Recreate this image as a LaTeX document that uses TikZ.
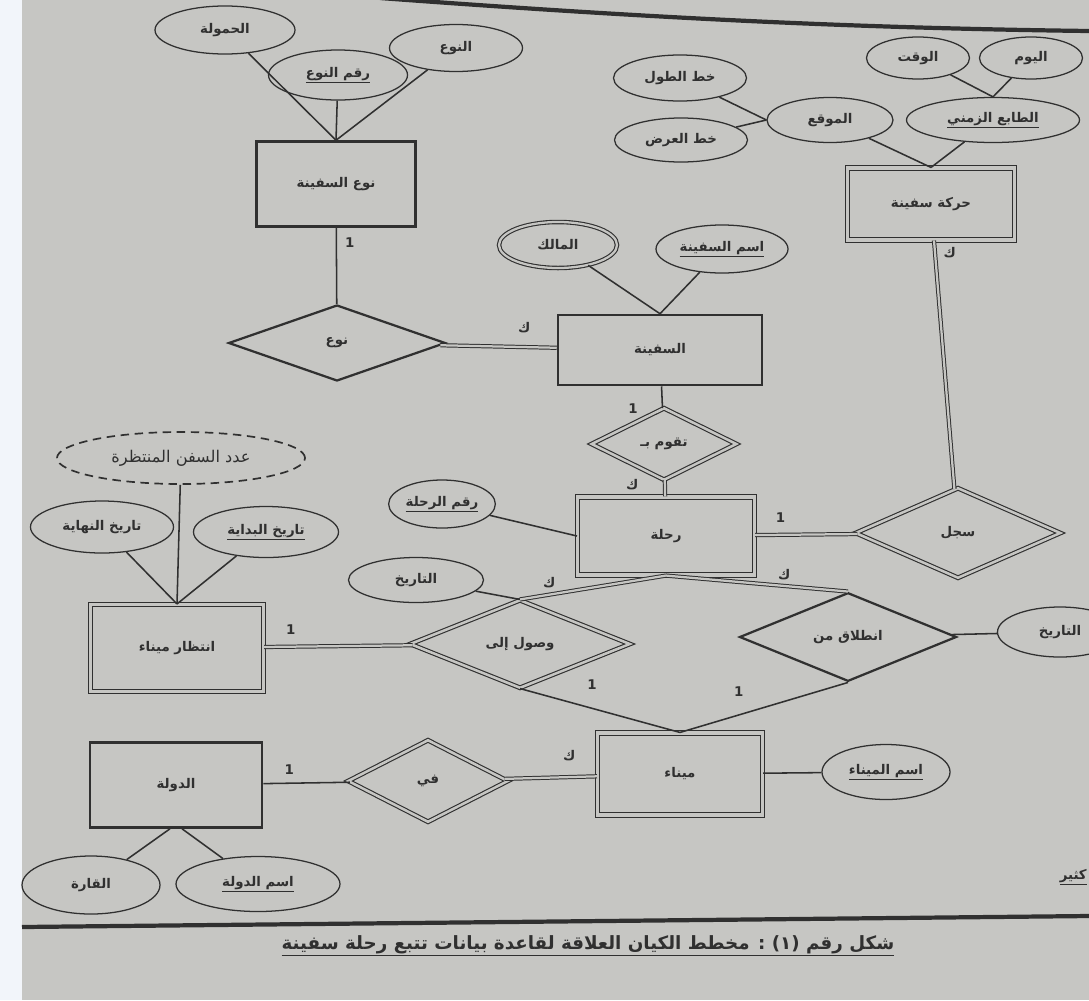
\documentclass[tikz,border=0pt]{standalone}
\usepackage{fontspec}
\usetikzlibrary{shapes.geometric}
\newfontfamily\arabicfont[Script=Arabic]{DejaVu Sans}
\TeXXeTstate=1
\newdimen\pxu \pxu=0.025cm
\newcommand{\ar}[1]{{\arabicfont\bfseries\beginR #1\endR}}
\newcommand{\aru}[1]{\underline{\ar{#1}}}
\definecolor{paper}{RGB}{198,198,195}
\definecolor{margin}{RGB}{242,245,250}
\definecolor{ink}{RGB}{48,48,48}
\tikzset{
  base/.style={draw=ink, text=ink, font=\fontsize{9.5}{11}\selectfont, inner sep=1pt},
  entity/.style={base, rectangle, line width=1.8pt},
  wentity/.style={base, rectangle, double=paper, double distance=2.4pt, line width=0.8pt},
  attr/.style={base, ellipse, line width=0.9pt},
  multiattr/.style={attr, double=paper, double distance=1.6pt, line width=0.8pt},
  derivattr/.style={attr, dash pattern=on 6pt off 4pt, line width=1.2pt},
  rel/.style={base, diamond, line width=1.6pt},
  wrel/.style={base, diamond, double=paper, double distance=1.8pt, line width=0.8pt},
  link/.style={draw=ink, line width=1.1pt},
  dlink/.style={draw=ink, double=paper, double distance=1.6pt, line width=0.7pt},
  card/.style={text=ink, font=\fontsize{9.5}{11}\selectfont, inner sep=0pt},
}

\begin{document}
\begin{tikzpicture}[x=0.025cm, y=-0.025cm]
    \useasboundingbox (0,0) rectangle (1089,1000);
    \fill[paper] (22,0) rectangle (1089,1000);
    \fill[margin] (0,0) rectangle (22,1000);
    \draw[ink, line width=3pt] (380,-2) .. controls (650,18) and (850,28) .. (1089,31);
    \draw[ink, line width=3pt] (22,927) -- (1089,916);

    % ship type
    \node[attr, minimum width=140\pxu, minimum height=48\pxu] (hamula) at (225,30) {\ar{الحمولة}};
    \node[attr, minimum width=139\pxu, minimum height=50\pxu] (raqmnaw) at (338,75) {\aru{رقم النوع}};
    \node[attr, minimum width=133\pxu, minimum height=47\pxu] (naw) at (456,48) {\ar{النوع}};
    \node[entity, minimum width=159\pxu, minimum height=85\pxu] (nwsaf) at (336,184) {\ar{نوع السفينة}};
    \node[rel, minimum width=217\pxu, minimum height=76\pxu] (rnaw) at (337,343) {\ar{نوع}};

    % ship
    \node[multiattr, minimum width=118\pxu, minimum height=46\pxu] (malik) at (558,245) {\ar{المالك}};
    \node[attr, minimum width=132\pxu, minimum height=48\pxu] (ismsaf) at (722,249) {\aru{اسم السفينة}};
    \node[entity, minimum width=204\pxu, minimum height=70\pxu] (saf) at (660,350) {\ar{السفينة}};
    \node[wrel, minimum width=145\pxu, minimum height=72\pxu] (rtaqum) at (664,444) {\ar{تقوم بـ}};

    % ship movement
    \node[attr, minimum width=133\pxu, minimum height=46\pxu] (khtul) at (680,78) {\ar{خط الطول}};
    \node[attr, minimum width=133\pxu, minimum height=44\pxu] (khard) at (681,140) {\ar{خط العرض}};
    \node[attr, minimum width=126\pxu, minimum height=45\pxu] (mawqi) at (830,120) {\ar{الموقع}};
    \node[attr, minimum width=103\pxu, minimum height=42\pxu] (waqt) at (918,58) {\ar{الوقت}};
    \node[attr, minimum width=103\pxu, minimum height=42\pxu] (yawm) at (1031,58) {\ar{اليوم}};
    \node[attr, minimum width=173\pxu, minimum height=45\pxu] (tabi) at (993,120) {\aru{الطابع الزمني}};
    \node[wentity, minimum width=167\pxu, minimum height=72\pxu] (haraka) at (931,204) {\ar{حركة سفينة}};

    % trip
    \node[attr, minimum width=104\pxu, minimum height=48\pxu] (raqmrihla) at (442,504) {\aru{رقم الرحلة}};
    \node[wentity, minimum width=177\pxu, minimum height=78\pxu] (rihla) at (666,536) {\ar{رحلة}};
    \node[wrel, minimum width=205\pxu, minimum height=90\pxu] (rsajjal) at (958,533) {\ar{سجل}};
    \node[attr, minimum width=135\pxu, minimum height=45\pxu] (tarikha) at (416,580) {\ar{التاريخ}};
    \node[wrel, minimum width=220\pxu, minimum height=88\pxu] (rwusul) at (520,644) {\ar{وصول إلى}};
    \node[rel, minimum width=217\pxu, minimum height=73\pxu] (rintilaq) at (848,637) {\ar{انطلاق من}};
    \node[attr, minimum width=125\pxu, minimum height=50\pxu] (tarikhb) at (1060,632) {\ar{التاريخ}};

    % port waiting
    \node[derivattr, minimum width=248\pxu, minimum height=52\pxu] (adad) at (181,458) {{\arabicfont\fontsize{11.5}{13}\selectfont\beginR عدد السفن المنتظرة\endR}};
    \node[attr, minimum width=143\pxu, minimum height=52\pxu] (nihaya) at (102,527) {\ar{تاريخ النهاية}};
    \node[attr, minimum width=145\pxu, minimum height=51\pxu] (bidaya) at (266,532) {\aru{تاريخ البداية}};
    \node[wentity, minimum width=173\pxu, minimum height=87\pxu] (intizar) at (177,648) {\ar{انتظار ميناء}};

    % port and country
    \node[wentity, minimum width=165\pxu, minimum height=82\pxu] (mina) at (680,774) {\ar{ميناء}};
    \node[attr, minimum width=128\pxu, minimum height=55\pxu] (ismmina) at (886,772) {\aru{اسم الميناء}};
    \node[wrel, minimum width=160\pxu, minimum height=82\pxu] (rfi) at (428,781) {\ar{في}};
    \node[entity, minimum width=172\pxu, minimum height=85\pxu] (dawla) at (176,785) {\ar{الدولة}};
    \node[attr, minimum width=138\pxu, minimum height=58\pxu] (qarra) at (91,885) {\ar{القارة}};
    \node[attr, minimum width=164\pxu, minimum height=55\pxu] (ismdawla) at (258,884) {\aru{اسم الدولة}};

    % attribute links
    \draw[link] (hamula) -- (nwsaf.north);
    \draw[link] (raqmnaw) -- (nwsaf.north);
    \draw[link] (naw) -- (nwsaf.north);
    \draw[link] (malik) -- (saf.north);
    \draw[link] (ismsaf) -- (saf.north);
    \draw[link] (khtul) -- (mawqi.west);
    \draw[link] (khard) -- (mawqi.west);
    \draw[link] (waqt) -- (tabi.north);
    \draw[link] (yawm) -- (tabi.north);
    \draw[link] (mawqi) -- (haraka.north);
    \draw[link] (tabi) -- (haraka.north);
    \draw[link] (raqmrihla) -- (rihla.west);
    \draw[link] (tarikha) -- (rwusul.north);
    \draw[link] (rintilaq) -- (tarikhb);
    \draw[link] (adad) -- (intizar.north);
    \draw[link] (nihaya) -- (intizar.north);
    \draw[link] (bidaya) -- (intizar.north);
    \draw[link] (mina) -- (ismmina);
    \draw[link] ([xshift=-6\pxu]dawla.south) -- (qarra);
    \draw[link] ([xshift=6\pxu]dawla.south) -- (ismdawla);

    % relationship links
    \draw[link] (nwsaf) -- (rnaw) node[card, pos=0.2, right=8\pxu] {{\arabicfont\bfseries 1}};
    \draw[dlink] (rnaw) -- (saf) node[card, pos=0.72, above=14\pxu] {\ar{ك}};
    \draw[link] (saf) -- (rtaqum) node[card, pos=1, left=24\pxu] {{\arabicfont\bfseries 1}};
    \draw[dlink] (rtaqum) -- (rihla) node[card, pos=0.3, left=26\pxu] {\ar{ك}};
    \draw[dlink] (rihla) -- (rsajjal) node[card, pos=0.25, above=12\pxu] {{\arabicfont\bfseries 1}};
    \draw[dlink] (haraka) -- (rsajjal) node[card, pos=0.05, right=8\pxu] {\ar{ك}};
    \draw[dlink] (rihla.south) -- (rwusul.north) node[card, pos=0.8, above=6\pxu] {\ar{ك}};
    \draw[dlink] (rihla.south) -- (rintilaq.north) node[card, pos=0.65, above=6\pxu] {\ar{ك}};
    \draw[dlink] (intizar) -- (rwusul) node[card, pos=0.18, above=12\pxu] {{\arabicfont\bfseries 1}};
    \draw[link] (rwusul.south) -- (mina.north) node[card, pos=0.45, above=18\pxu] {{\arabicfont\bfseries 1}};
    \draw[link] (rintilaq.south) -- (mina.north) node[card, pos=0.65, above=18\pxu] {{\arabicfont\bfseries 1}};
    \draw[link] (dawla) -- (rfi) node[card, pos=0.3, above=8\pxu] {{\arabicfont\bfseries 1}};
    \draw[dlink] (rfi) -- (mina) node[card, pos=0.7, above=16\pxu] {\ar{ك}};

    % note and caption
    \node[card, anchor=east] (note) at (1087,877) {\aru{كثير}};
    \node[text=ink, inner sep=0pt] (caption) at (588,946) {{\arabicfont\bfseries\fontsize{13}{15}\selectfont\underline{\beginR شكل رقم (١) : مخطط الكيان العلاقة لقاعدة بيانات تتبع رحلة سفينة\endR}}};
\end{tikzpicture}
\end{document}
